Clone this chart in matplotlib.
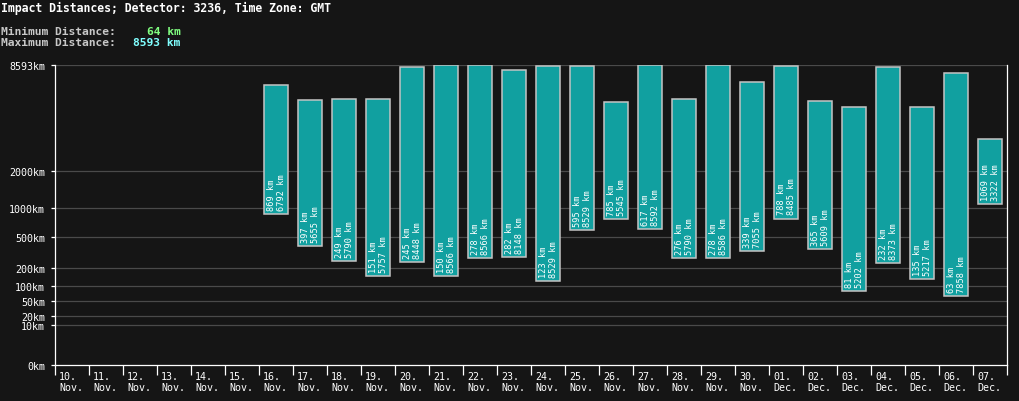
import matplotlib
matplotlib.use("Agg")
from matplotlib import pyplot as plt
import numpy as np

# Days shown on the x axis, and min/max impact distance (km) per day.
DAYS = ["10.", "11.", "12.", "13.", "14.", "15.", "16.", "17.", "18.", "19.",
        "20.", "21.", "22.", "23.", "24.", "25.", "26.", "27.", "28.", "29.",
        "30.", "01.", "02.", "03.", "04.", "05.", "06.", "07."]
MONTHS = ["Nov."] * 21 + ["Dec."] * 7
MIN_KM = [None] * 6 + [869, 397, 249, 151, 245, 150, 278, 282, 123, 595, 785,
                       617, 276, 278, 339, 788, 365, 81, 232, 135, 63, 1069]
MAX_KM = [None] * 6 + [6792, 5655, 5790, 5757, 8448, 8566, 8566, 8148, 8529,
                       8529, 5545, 8592, 5790, 8586, 7055, 8485, 5609, 5202,
                       8373, 5217, 7858, 3322]
Y_TICKS = [0, 10, 20, 50, 100, 200, 500, 1000, 2000, 8593]

TITLE = "Impact Distances; Detector: 3236, Time Zone: GMT"
OVERALL_MIN = 64
OVERALL_MAX = 8593

BG = "#151515"
BAR = "#11a0a0"
MONO = "DejaVu Sans Mono"

W, H = 1019, 402
fig = plt.figure(figsize=(W / 100, H / 100), dpi=100, facecolor=BG)
ax = fig.add_axes([55 / W, (H - 366) / H, 952 / W, 300 / H], facecolor=BG)


def fwd(v):
    v = np.asarray(v, dtype=float)
    return np.sign(v) * np.abs(v) ** 0.3


def inv(v):
    v = np.asarray(v, dtype=float)
    return np.sign(v) * np.abs(v) ** (1 / 0.3)


ax.set_yscale("function", functions=(fwd, inv))
ax.set_ylim(0, OVERALL_MAX)
ax.set_xlim(-0.5, len(DAYS) - 0.5)

for y in Y_TICKS[1:]:
    ax.axhline(y, color="#4a4a4a", lw=0.9, zorder=1)

for i, (lo, hi) in enumerate(zip(MIN_KM, MAX_KM)):
    if lo is None:
        continue
    ax.bar(i, hi - lo, bottom=lo, width=0.73, color=BAR,
           edgecolor="#c4c4c4", lw=1.1, zorder=3)
    ax.annotate(f"{lo} km\n{hi} km", xy=(i, lo), xytext=(0.5, 3),
                textcoords="offset points", rotation=90, ha="center",
                va="bottom", multialignment="left", color="white",
                fontsize=6.2, family=MONO, linespacing=1.1, zorder=4)

ax.set_yticks(Y_TICKS)
ax.set_yticklabels([f"{v}km" for v in Y_TICKS], family=MONO, fontsize=7.2)
ax.tick_params(axis="y", colors="white", length=3, width=0.9, pad=4)
ax.set_xticks(np.arange(len(DAYS) + 1) - 0.5)
ax.set_xticklabels([])
ax.tick_params(axis="x", colors="white", length=7, width=0.9)

for i, (d, m) in enumerate(zip(DAYS, MONTHS)):
    ax.annotate(f"{d}\n{m}", xy=(i - 0.5, 0), xycoords=("data", "axes fraction"),
                xytext=(3, -4), textcoords="offset points", ha="left", va="top",
                color="white", fontsize=7.2, family=MONO, linespacing=1.15)

for side in ["left", "bottom", "right"]:
    ax.spines[side].set_color("white")
    ax.spines[side].set_linewidth(0.9)
ax.spines["top"].set_visible(False)

fig.text(1 / W, 1 - 2 / H, TITLE, color="white", fontsize=8.3, weight="bold",
         family=MONO, va="top", ha="left")
fig.text(1 / W, 1 - 27 / H, "Minimum Distance:", color="#c8c8c8",
         fontsize=8.1, weight="bold", family=MONO, va="top", ha="left")
fig.text(1 / W, 1 - 38 / H, "Maximum Distance:", color="#c8c8c8",
         fontsize=8.1, weight="bold", family=MONO, va="top", ha="left")
fig.text(147 / W, 1 - 27 / H, f"{OVERALL_MIN} km", color="#80ff80",
         fontsize=8.1, weight="bold", family=MONO, va="top", ha="left")
fig.text(133 / W, 1 - 38 / H, f"{OVERALL_MAX} km", color="#80ffff",
         fontsize=8.1, weight="bold", family=MONO, va="top", ha="left")

fig.savefig("out.png", dpi=100, facecolor=BG)
